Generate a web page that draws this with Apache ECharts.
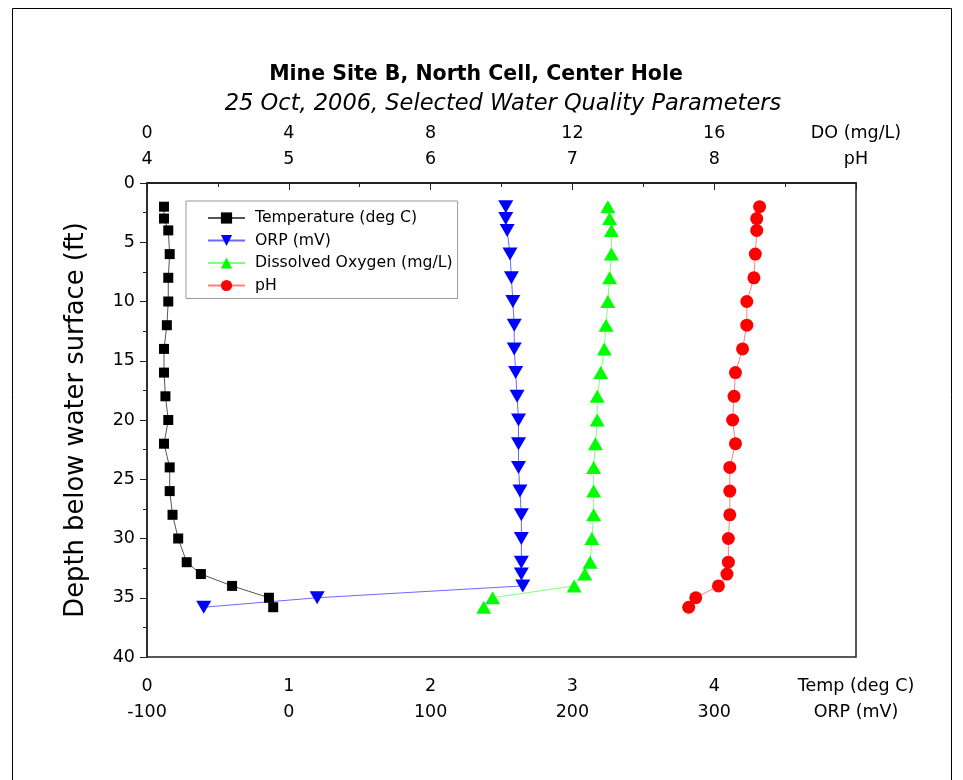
<!DOCTYPE html>
<html>
<head>
<meta charset="utf-8">
<script src="https://cdn.jsdelivr.net/npm/echarts@6/dist/echarts.min.js"></script>
<style>html,body{margin:0;padding:0;background:#fff;}#c{width:963px;height:780px;}</style>
</head>
<body>
<div id="c"></div>
<script>
const depth = [2,3,4,6,8,10,12,14,16,18,20,22,24,26,28,30,32,33,34,35,35.8];
const temp = [0.12,0.12,0.15,0.16,0.15,0.15,0.14,0.12,0.12,0.13,0.15,0.12,0.16,0.16,0.18,0.22,0.28,0.38,0.6,0.86,0.89];
const orp = [153,153,154,156,157,158,159,159,160,161,162,162,162,163,164,164,164,164,165,20,-60];
const dox = [13.0,13.05,13.1,13.1,13.05,13.0,12.95,12.9,12.8,12.7,12.7,12.65,12.6,12.6,12.6,12.55,12.5,12.35,12.05,9.75,9.5];
const ph = [8.32,8.30,8.30,8.29,8.28,8.23,8.23,8.20,8.15,8.14,8.13,8.15,8.11,8.11,8.11,8.10,8.10,8.09,8.03,7.87,7.82];
const seriesNames = ['Temperature (deg C)','ORP (mV)','Dissolved Oxygen (mg/L)','pH'];
const axisUnitLabels = {temp:'Temp (deg C)', orp:'ORP (mV)', dox:'DO (mg/L)', ph:'pH'};
const titleText = 'Mine Site B, North Cell, Center Hole';
const subtitleText = '25 Oct, 2006, Selected Water Quality Parameters';
const yAxisName = 'Depth below water surface (ft)';

function pairs(xs){ return xs.map((x,i)=>[x, depth[i]]); }
const FONT = 'DejaVu Sans, Verdana, sans-serif';
const lab = {color:'#000', fontFamily:FONT, fontSize:17.5};

const chart = echarts.init(document.getElementById('c'));
function fmt(maxV, unit){ return v => (v === maxV ? unit : String(v)); }

chart.setOption({
  animation:false,
  backgroundColor:'#fff',
  graphic:[{type:'rect', shape:{x:12.5,y:8.5,width:939,height:790}, style:{fill:'none', stroke:'#000', lineWidth:1}}],
  title:[
    {text:titleText, left:471, top:59, textAlign:'center', textStyle:{fontFamily:FONT, fontSize:20.5, fontWeight:'bold', color:'#000'}},
    {text:subtitleText, left:498, top:88, textAlign:'center', textStyle:{fontFamily:FONT, fontSize:22.5, fontStyle:'italic', fontWeight:'normal', color:'#000'}}
  ],
  legend:{
    orient:'vertical', left:186, top:201,
    data:seriesNames,
    backgroundColor:'#fff', borderColor:'#999', borderWidth:1,
    padding:[9,5,5,21], itemGap:6.5, itemWidth:37, itemHeight:14,
    textStyle:{fontFamily:FONT, fontSize:15.7, color:'#000', padding:[0,0,0,5]}
  },
  grid:{left:147, right:107, top:183, bottom:123, show:true, borderColor:'#222', borderWidth:1.5, backgroundColor:'transparent'},
  xAxis:[
    {type:'value', position:'bottom', min:0, max:5, interval:1,
     axisLine:{show:true, lineStyle:{color:'#222', width:1.5}},
     axisTick:{show:true, inside:false, length:7, lineStyle:{color:'#222'}},
     minorTick:{show:true, splitNumber:2, length:4, lineStyle:{color:'#222'}},
     splitLine:{show:false},
     axisLabel:Object.assign({margin:20, formatter:fmt(5, axisUnitLabels.temp), showMaxLabel:true}, lab)},
    {type:'value', position:'bottom', offset:26, min:-100, max:400, interval:100,
     axisLine:{show:false}, axisTick:{show:false}, splitLine:{show:false},
     axisLabel:Object.assign({margin:20, formatter:fmt(400, axisUnitLabels.orp), showMaxLabel:true}, lab)},
    {type:'value', position:'top', min:4, max:9, interval:1,
     axisLine:{show:true, lineStyle:{color:'#222', width:1.5}},
     axisTick:{show:true, inside:true, length:7, lineStyle:{color:'#222'}},
     minorTick:{show:true, splitNumber:2, length:4, lineStyle:{color:'#222'}},
     splitLine:{show:false},
     axisLabel:Object.assign({margin:15, formatter:fmt(9, axisUnitLabels.ph), showMaxLabel:true}, lab)},
    {type:'value', position:'top', offset:26, min:0, max:20, interval:4,
     axisLine:{show:false}, axisTick:{show:false}, splitLine:{show:false},
     axisLabel:Object.assign({margin:15, formatter:fmt(20, axisUnitLabels.dox), showMaxLabel:true}, lab)}
  ],
  yAxis:[
    {type:'value', inverse:true, min:0, max:40, interval:5,
     name:yAxisName, nameLocation:'middle', nameGap:58, nameRotate:90,
     nameTextStyle:{fontFamily:FONT, fontSize:25.8, color:'#000'},
     axisLine:{show:true, lineStyle:{color:'#222', width:1.5}},
     axisTick:{show:true, inside:false, length:7, lineStyle:{color:'#222'}},
     minorTick:{show:true, splitNumber:2, length:4, lineStyle:{color:'#222'}},
     splitLine:{show:false},
     axisLabel:Object.assign({margin:12}, lab)}
  ],
  series:[
    {name:seriesNames[0], type:'line', xAxisIndex:0, data:pairs(temp), symbol:'rect', symbolSize:10,
     itemStyle:{color:'#000'}, lineStyle:{color:'#555', width:1}},
    {name:seriesNames[1], type:'line', xAxisIndex:1, data:pairs(orp), symbol:'triangle', symbolRotate:180, symbolSize:[15,13],
     itemStyle:{color:'#0000ff'}, lineStyle:{color:'#6a6aff', width:1}},
    {name:seriesNames[2], type:'line', xAxisIndex:3, data:pairs(dox), symbol:'triangle', symbolSize:[15,13],
     itemStyle:{color:'#00ff00'}, lineStyle:{color:'#80ff80', width:1}},
    {name:seriesNames[3], type:'line', xAxisIndex:2, data:pairs(ph), symbol:'circle', symbolSize:13,
     itemStyle:{color:'#ff0000'}, lineStyle:{color:'#ff8080', width:1}}
  ]
});
</script>
</body>
</html>
